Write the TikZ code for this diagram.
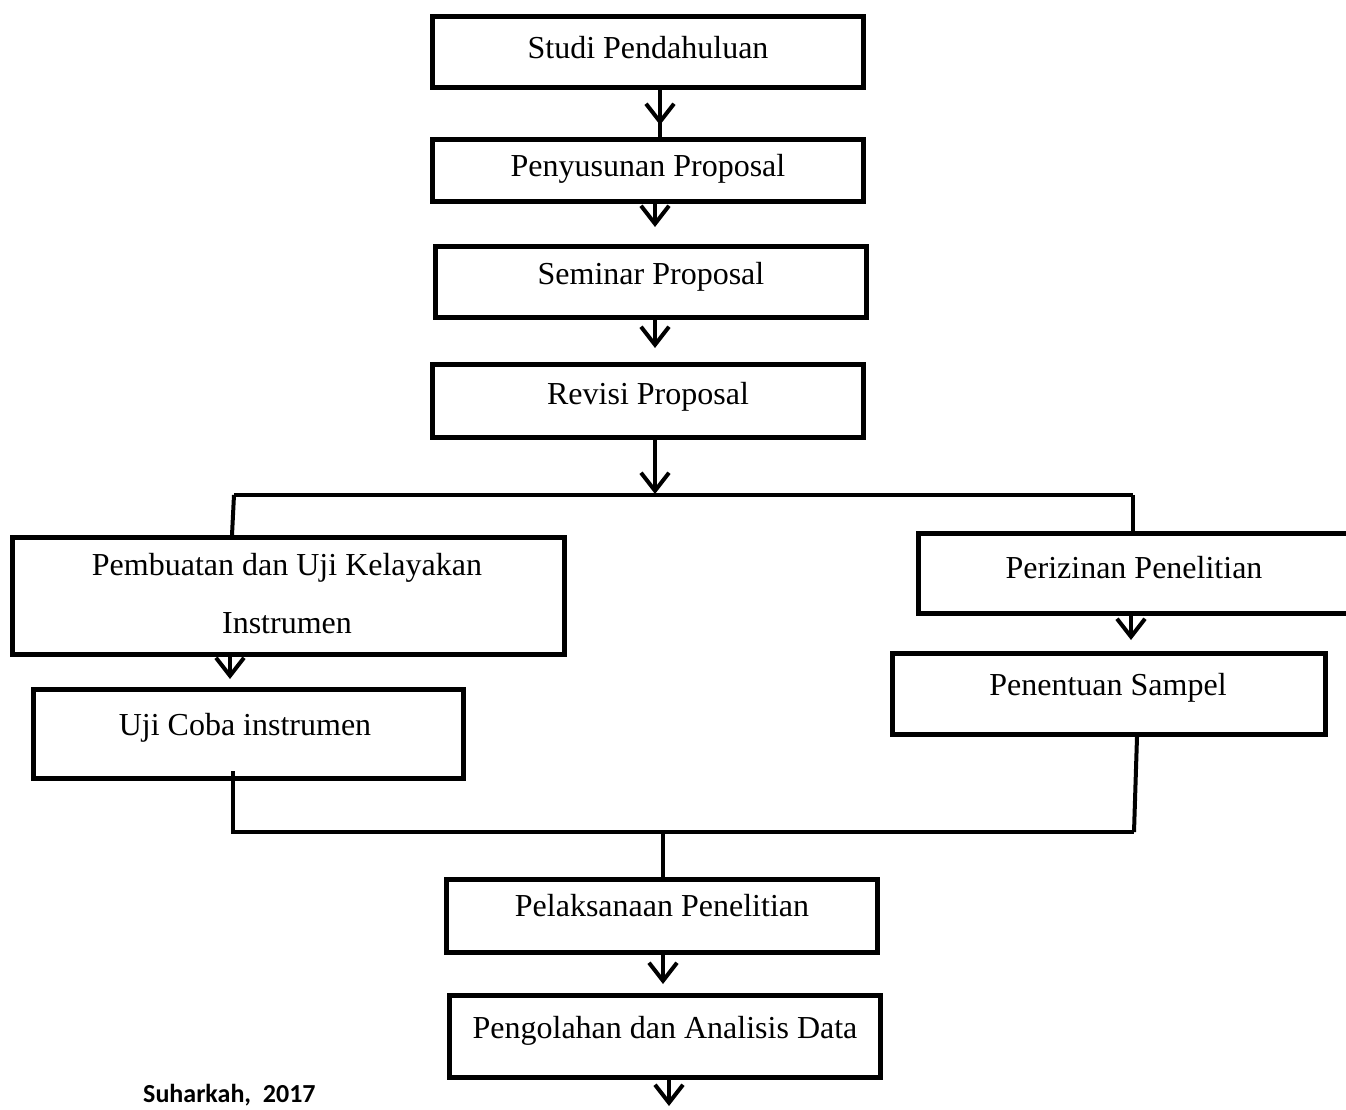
\documentclass[tikz,border=0pt]{standalone}
\usepackage{fontspec}
\setmainfont{Liberation Serif}
\newfontfamily\srcfont{Carlito}
\usetikzlibrary{arrows.meta,calc}
\tikzset{
  stepbox/.style={draw=black,line width=5pt,inner sep=0pt,minimum width=431pt},
  lbl/.style={font=\fontsize{32}{40}\selectfont,inner sep=0pt,align=center},
  conn/.style={line width=4pt,draw=black},
  arr/.style={conn,-{Straight Barb[length=18pt,width=28pt]}},
}
\begin{document}
\begin{tikzpicture}[x=1pt,y=-1pt]
\useasboundingbox (0,0) rectangle (1346,1109);
\clip (0,0) rectangle (1346,1109);
% boxes
\node[stepbox,minimum height=71pt] (b1) at (648,52) {};
\node[stepbox,minimum height=62pt] (b2) at (648,170.5) {};
\node[stepbox,minimum height=71pt] (b3) at (651,282) {};
\node[stepbox,minimum height=73pt] (b4) at (648,401) {};
\node[stepbox,minimum width=552pt,minimum height=117pt] (b5) at (288.5,596) {};
\node[stepbox,minimum height=80pt] (b6) at (1134,573.5) {};
\node[stepbox,minimum width=430pt,minimum height=89pt] (b7) at (248.5,734) {};
\node[stepbox,minimum width=433pt,minimum height=81pt] (b8) at (1109,694) {};
\node[stepbox,minimum height=73pt] (b9) at (662,916) {};
\node[stepbox,minimum height=82pt] (b10) at (665,1036.5) {};
% labels
\node[lbl] (t1) at (648,48) {Studi Pendahuluan};
\node[lbl] (t2) at (648,169) {Penyusunan Proposal};
\node[lbl] (t3) at (651,277) {Seminar Proposal};
\node[lbl] (t4) at (648,397) {Revisi Proposal};
\node[lbl] (t5a) at (287,568) {Pembuatan dan Uji Kelayakan};
\node[lbl] (t5b) at (287,623) {Instrumen};
\node[lbl] (t6) at (1134,568) {Perizinan Penelitian};
\node[lbl] (t7) at (245,728) {Uji Coba instrumen};
\node[lbl] (t8) at (1108,688) {Penentuan Sampel};
\node[lbl] (t9) at (662,906) {Pelaksanaan Penelitian};
\node[lbl] (t10) at (665,1031) {Pengolahan dan Analisis Data};
\node[font=\srcfont\bfseries\fontsize{26}{30}\selectfont,anchor=base west,inner sep=0pt] (src) at (143,1102) {Suharkah,\ \ 2017};
% junction coordinates
\coordinate (sl) at (234,495);
\coordinate (sm) at (655,495);
\coordinate (sr) at (1133,495);
\coordinate (ml) at (233,832);
\coordinate (mm) at (663,832);
\coordinate (mr) at (1134,832);
\coordinate (ustart) at (233,771);
\coordinate (endp) at (669,1106);
% connectors
\draw[conn] ([xshift=12pt]b1.south) -- ([xshift=12pt]b2.north);
\draw[arr,shorten >=12pt] ([xshift=12pt]b1.south) -- ([xshift=12pt]b2.north);
\draw[arr,shorten >=17pt] ([xshift=7pt]b2.south) -- ([xshift=4pt]b3.north);
\draw[arr,shorten >=14pt] ([xshift=4pt]b3.south) -- ([xshift=7pt]b4.north);
\draw[arr,shorten >=1pt] ([xshift=7pt]b4.south) -- (sm);
\draw[conn] (sl) -- (sr);
\draw[conn] (sl) -- ([xshift=-56.5pt]b5.north);
\draw[conn] (sr) -- ([xshift=-1pt]b6.north);
\draw[arr,shorten >=8pt] ([xshift=-58.5pt]b5.south) -- ([xshift=-18.5pt]b7.north);
\draw[arr,shorten >=11pt] ([xshift=-3pt]b6.south) -- ([xshift=22pt]b8.north);
\draw[conn] (ustart) -- (ml) -- (mr);
\draw[conn] ([xshift=28pt]b8.south) -- (mr);
\draw[conn] (mm) -- ([xshift=1pt]b9.north);
\draw[arr,shorten >=9pt] ([xshift=1pt]b9.south) -- ([xshift=-2pt]b10.north);
\draw[arr] ([xshift=4pt]b10.south) -- (endp);
\end{tikzpicture}
\end{document}
